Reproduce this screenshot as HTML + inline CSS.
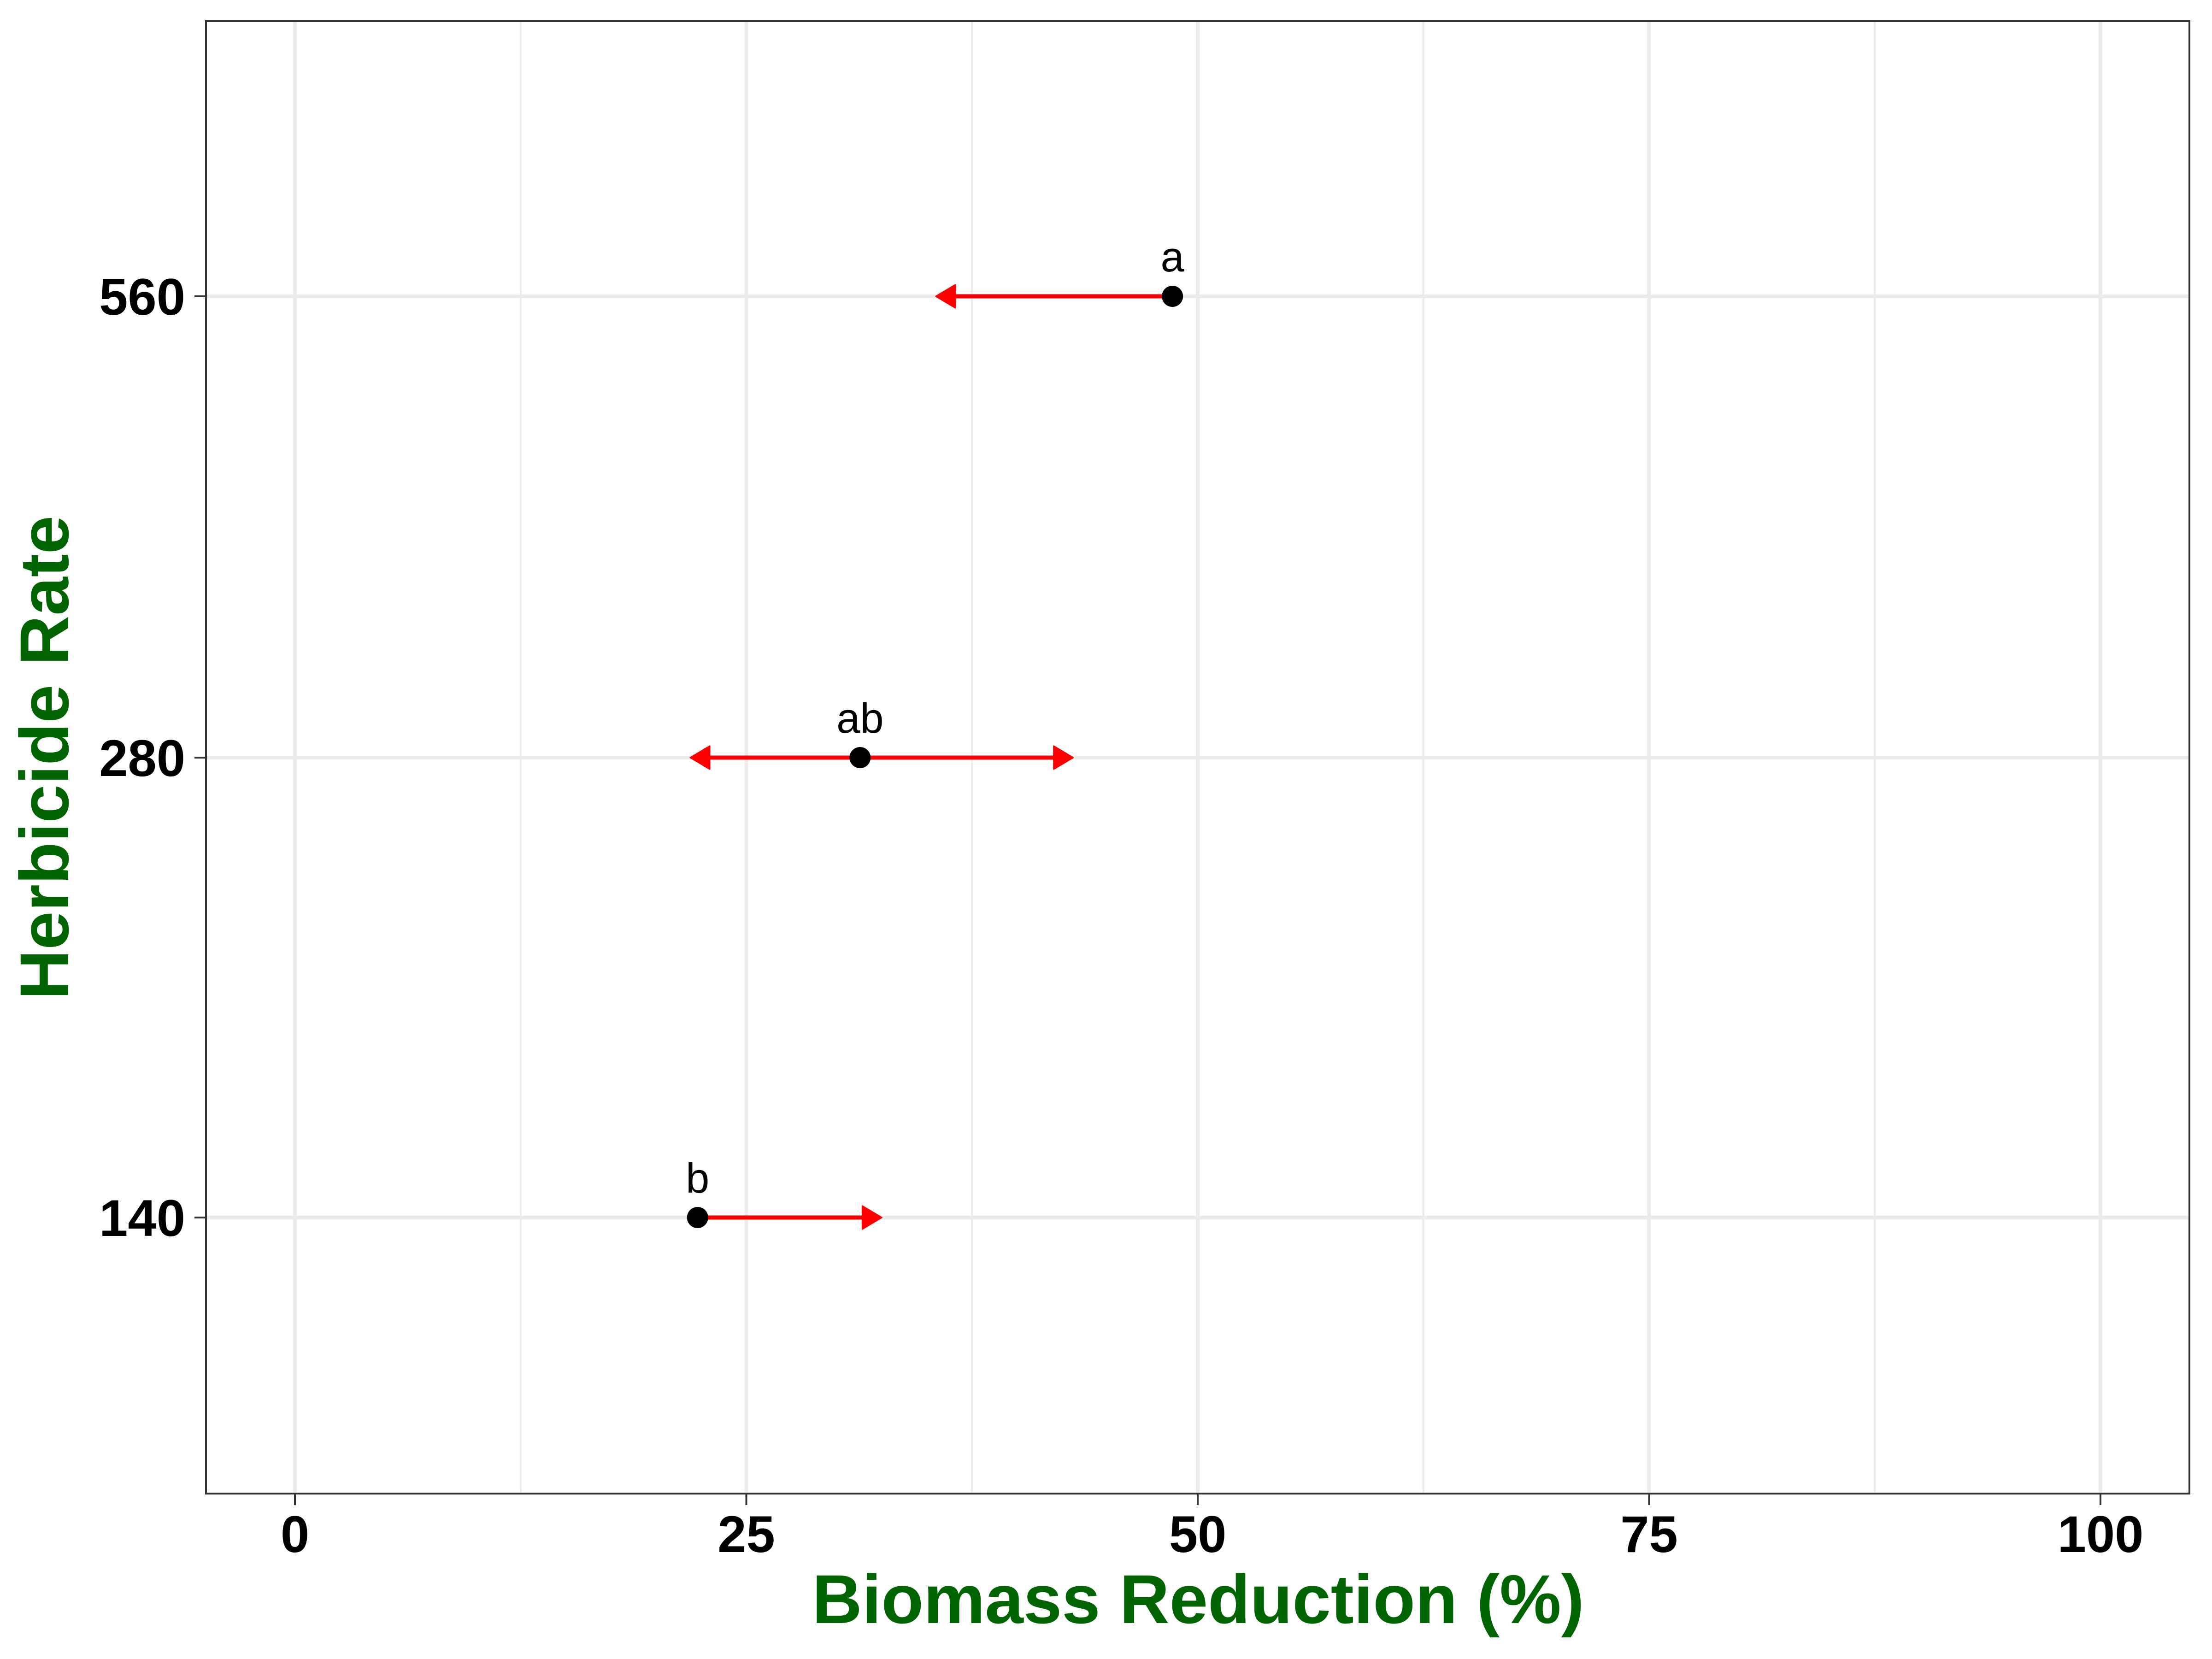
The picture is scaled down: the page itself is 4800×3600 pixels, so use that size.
<!DOCTYPE html>
<html><head><meta charset="utf-8"><style>html,body{margin:0;padding:0;background:#fff}svg{display:block}</style></head>
<body>
<svg id="chart" width="4800" height="3600" viewBox="0 0 4800 3600" xmlns="http://www.w3.org/2000/svg" font-family="'Liberation Sans', sans-serif">
<rect x="0" y="0" width="4800" height="3600" fill="#fff"/>
<g id="grid"></g><g id="marks"></g><g id="axes"></g>
<rect x="447" y="46" width="4304" height="3195" fill="none" stroke="#333" stroke-width="4"/>
<text x="2600" y="3522" text-anchor="middle" font-size="150" font-weight="bold" fill="#006400">Biomass Reduction (%)</text>
<text transform="translate(148,1644) rotate(-90)" text-anchor="middle" font-size="150" font-weight="bold" fill="#006400">Herbicide Rate</text>
</svg>
<script>
const rates = ["140", "280", "560"];
const means = [22.3, 31.3, 48.6];
const lowers = [22.3, 21.9, 35.5];
const uppers = [32.5, 43.1, 48.6];
const letters = ["b", "ab", "a"];
const xTicks = [0, 25, 50, 75, 100];
const xMinor = [12.5, 37.5, 62.5, 87.5];

const NS = "http://www.w3.org/2000/svg";
const X = v => 640 + v * 39.18;
const Ypos = {"140": 2642, "280": 1644, "560": 643};
const Y = c => Ypos[c];
function mk(tag, attrs, parent) {
  const e = document.createElementNS(NS, tag);
  for (const k in attrs) e.setAttribute(k, attrs[k]);
  parent.appendChild(e);
  return e;
}
const grid = document.getElementById('grid');
const marks = document.getElementById('marks');
const axes = document.getElementById('axes');

xMinor.forEach(v => {
  const l = mk('line', {x1: X(v), x2: X(v), y1: 46, y2: 3241, stroke: '#ebebeb', 'stroke-width': 4}, grid);
  
  
});
xTicks.forEach(v => {
  const l = mk('line', {x1: X(v), x2: X(v), y1: 46, y2: 3241, stroke: '#ebebeb', 'stroke-width': 8}, grid);
  
  
  const t = mk('line', {x1: X(v), x2: X(v), y1: 3241, y2: 3266, stroke: '#333', 'stroke-width': 4}, axes);
  
  
  const tx = mk('text', {x: X(v), y: 3368, 'text-anchor': 'middle', 'font-size': 112, 'font-weight': 'bold', fill: '#000'}, axes);
  tx.textContent = v;
  
  
});
rates.forEach(c => {
  const l = mk('line', {x1: 447, x2: 4751, y1: Y(c), y2: Y(c), stroke: '#ebebeb', 'stroke-width': 8}, grid);
  
  
  const t = mk('line', {x1: 422, x2: 447, y1: Y(c), y2: Y(c), stroke: '#333', 'stroke-width': 4}, axes);
  
  
  const tx = mk('text', {x: 402, y: Y(c) + 40, 'text-anchor': 'end', 'font-size': 112, 'font-weight': 'bold', fill: '#000'}, axes);
  tx.textContent = c;
  
  
});
function arrowHead(xTip, y, dir) {
  const back = xTip - dir * 42;
  const p = mk('polygon', {points: `${xTip},${y} ${back},${y-25} ${back},${y+25}`, fill: '#ff0000', stroke: '#ff0000', 'stroke-width': 3, 'stroke-linejoin': 'round'}, marks);
  
  
}
rates.forEach((c, i) => {
  const y = Y(c);
  const xm = X(means[i]), xl = X(lowers[i]), xu = X(uppers[i]);
  if (Math.abs(xl - xm) > 1) {
    const l = mk('line', {x1: xm, x2: xl + 30, y1: y, y2: y, stroke: '#ff0000', 'stroke-width': 9}, marks);
    
    
    arrowHead(xl, y, -1);
  }
  if (Math.abs(xu - xm) > 1) {
    const l = mk('line', {x1: xm, x2: xu - 30, y1: y, y2: y, stroke: '#ff0000', 'stroke-width': 9}, marks);
    
    
    arrowHead(xu, y, 1);
  }
  const pt = mk('circle', {cx: xm, cy: y, r: 23, fill: '#000'}, marks);
  
  
  const lb = mk('text', {x: xm, y: y - 54, 'text-anchor': 'middle', 'font-size': 92, fill: '#000'}, marks);
  lb.textContent = letters[i];
  
  
});
</script>
</body></html>
